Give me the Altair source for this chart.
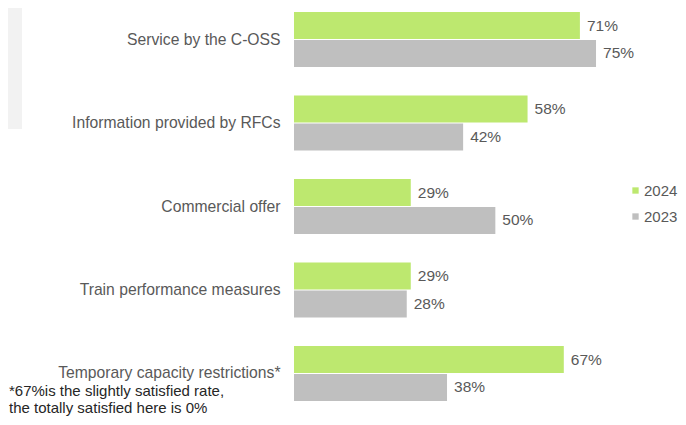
import altair as alt
import pandas as pd

categories = [
    "Service by the C-OSS",
    "Information provided by RFCs",
    "Commercial offer",
    "Train performance measures",
    "Temporary capacity restrictions*",
]
values_2024 = [71, 58, 29, 29, 67]
values_2023 = [75, 42, 50, 28, 38]
years = ["2024", "2023"]
colors = ["#BDE86F", "#BFBFBF"]
footnote = ["*67%is the slightly satisfied rate,", "the totally satisfied here is 0%"]

rows = []
for c, a, b in zip(categories, values_2024, values_2023):
    rows.append({"category": c, "year": "2024", "value": a})
    rows.append({"category": c, "year": "2023", "value": b})
df = pd.DataFrame(rows)
df["label"] = df["value"].astype(str) + "%"

FONT = "Liberation Sans"

y = alt.Y(
    "category:N",
    sort=categories,
    title=None,
    scale=alt.Scale(paddingInner=0.341, paddingOuter=0.048),
    axis=alt.Axis(
        domain=False, ticks=False, labelPadding=14, labelFontSize=15.7,
        labelColor="#595959", labelFont=FONT, labelLimit=400,
    ),
)
yoff = alt.YOffset("year:N", sort=years, scale=alt.Scale(paddingInner=0.03))
x = alt.X("value:Q", scale=alt.Scale(domain=[0, 95.36], nice=False), axis=None)
color = alt.Color(
    "year:N",
    sort=years,
    scale=alt.Scale(domain=years, range=colors),
    legend=alt.Legend(
        title=None, orient="none", legendX=334, legendY=175,
        symbolType="square", symbolSize=40, symbolStrokeWidth=0,
        labelFontSize=15, labelColor="#595959", labelFont=FONT,
        rowPadding=10, labelOffset=1, padding=0,
    ),
)

base = alt.Chart(df)
bars = base.mark_bar().encode(x=x, y=y, yOffset=yoff, color=color)
labels = base.mark_text(
    align="left", baseline="middle", dx=7, fontSize=15.5, color="#595959", font=FONT
).encode(x=x, y=y, yOffset=yoff, text="label:N")

note_df = pd.DataFrame({"t": [0]})
rect = alt.Chart(note_df).mark_rect(color="#F2F2F2").encode(
    x=alt.value(-286), x2=alt.value(-272), y=alt.value(0), y2=alt.value(121)
)
note = alt.Chart(note_df).mark_text(
    align="left", baseline="middle", fontSize=15, color="#262626", font=FONT, lineHeight=17
).encode(x=alt.value(-285), y=alt.value(383), text=alt.value(footnote))

chart = alt.layer(rect, bars, labels, note).properties(
    width=384, height=397,
    padding={"left": 286, "top": 0, "right": 0, "bottom": 11},
    autosize=alt.AutoSizeParams(type="none"),
    background="white",
).configure_view(stroke=None)

chart.save("out.html", embed_options={"renderer": "svg", "actions": False})
